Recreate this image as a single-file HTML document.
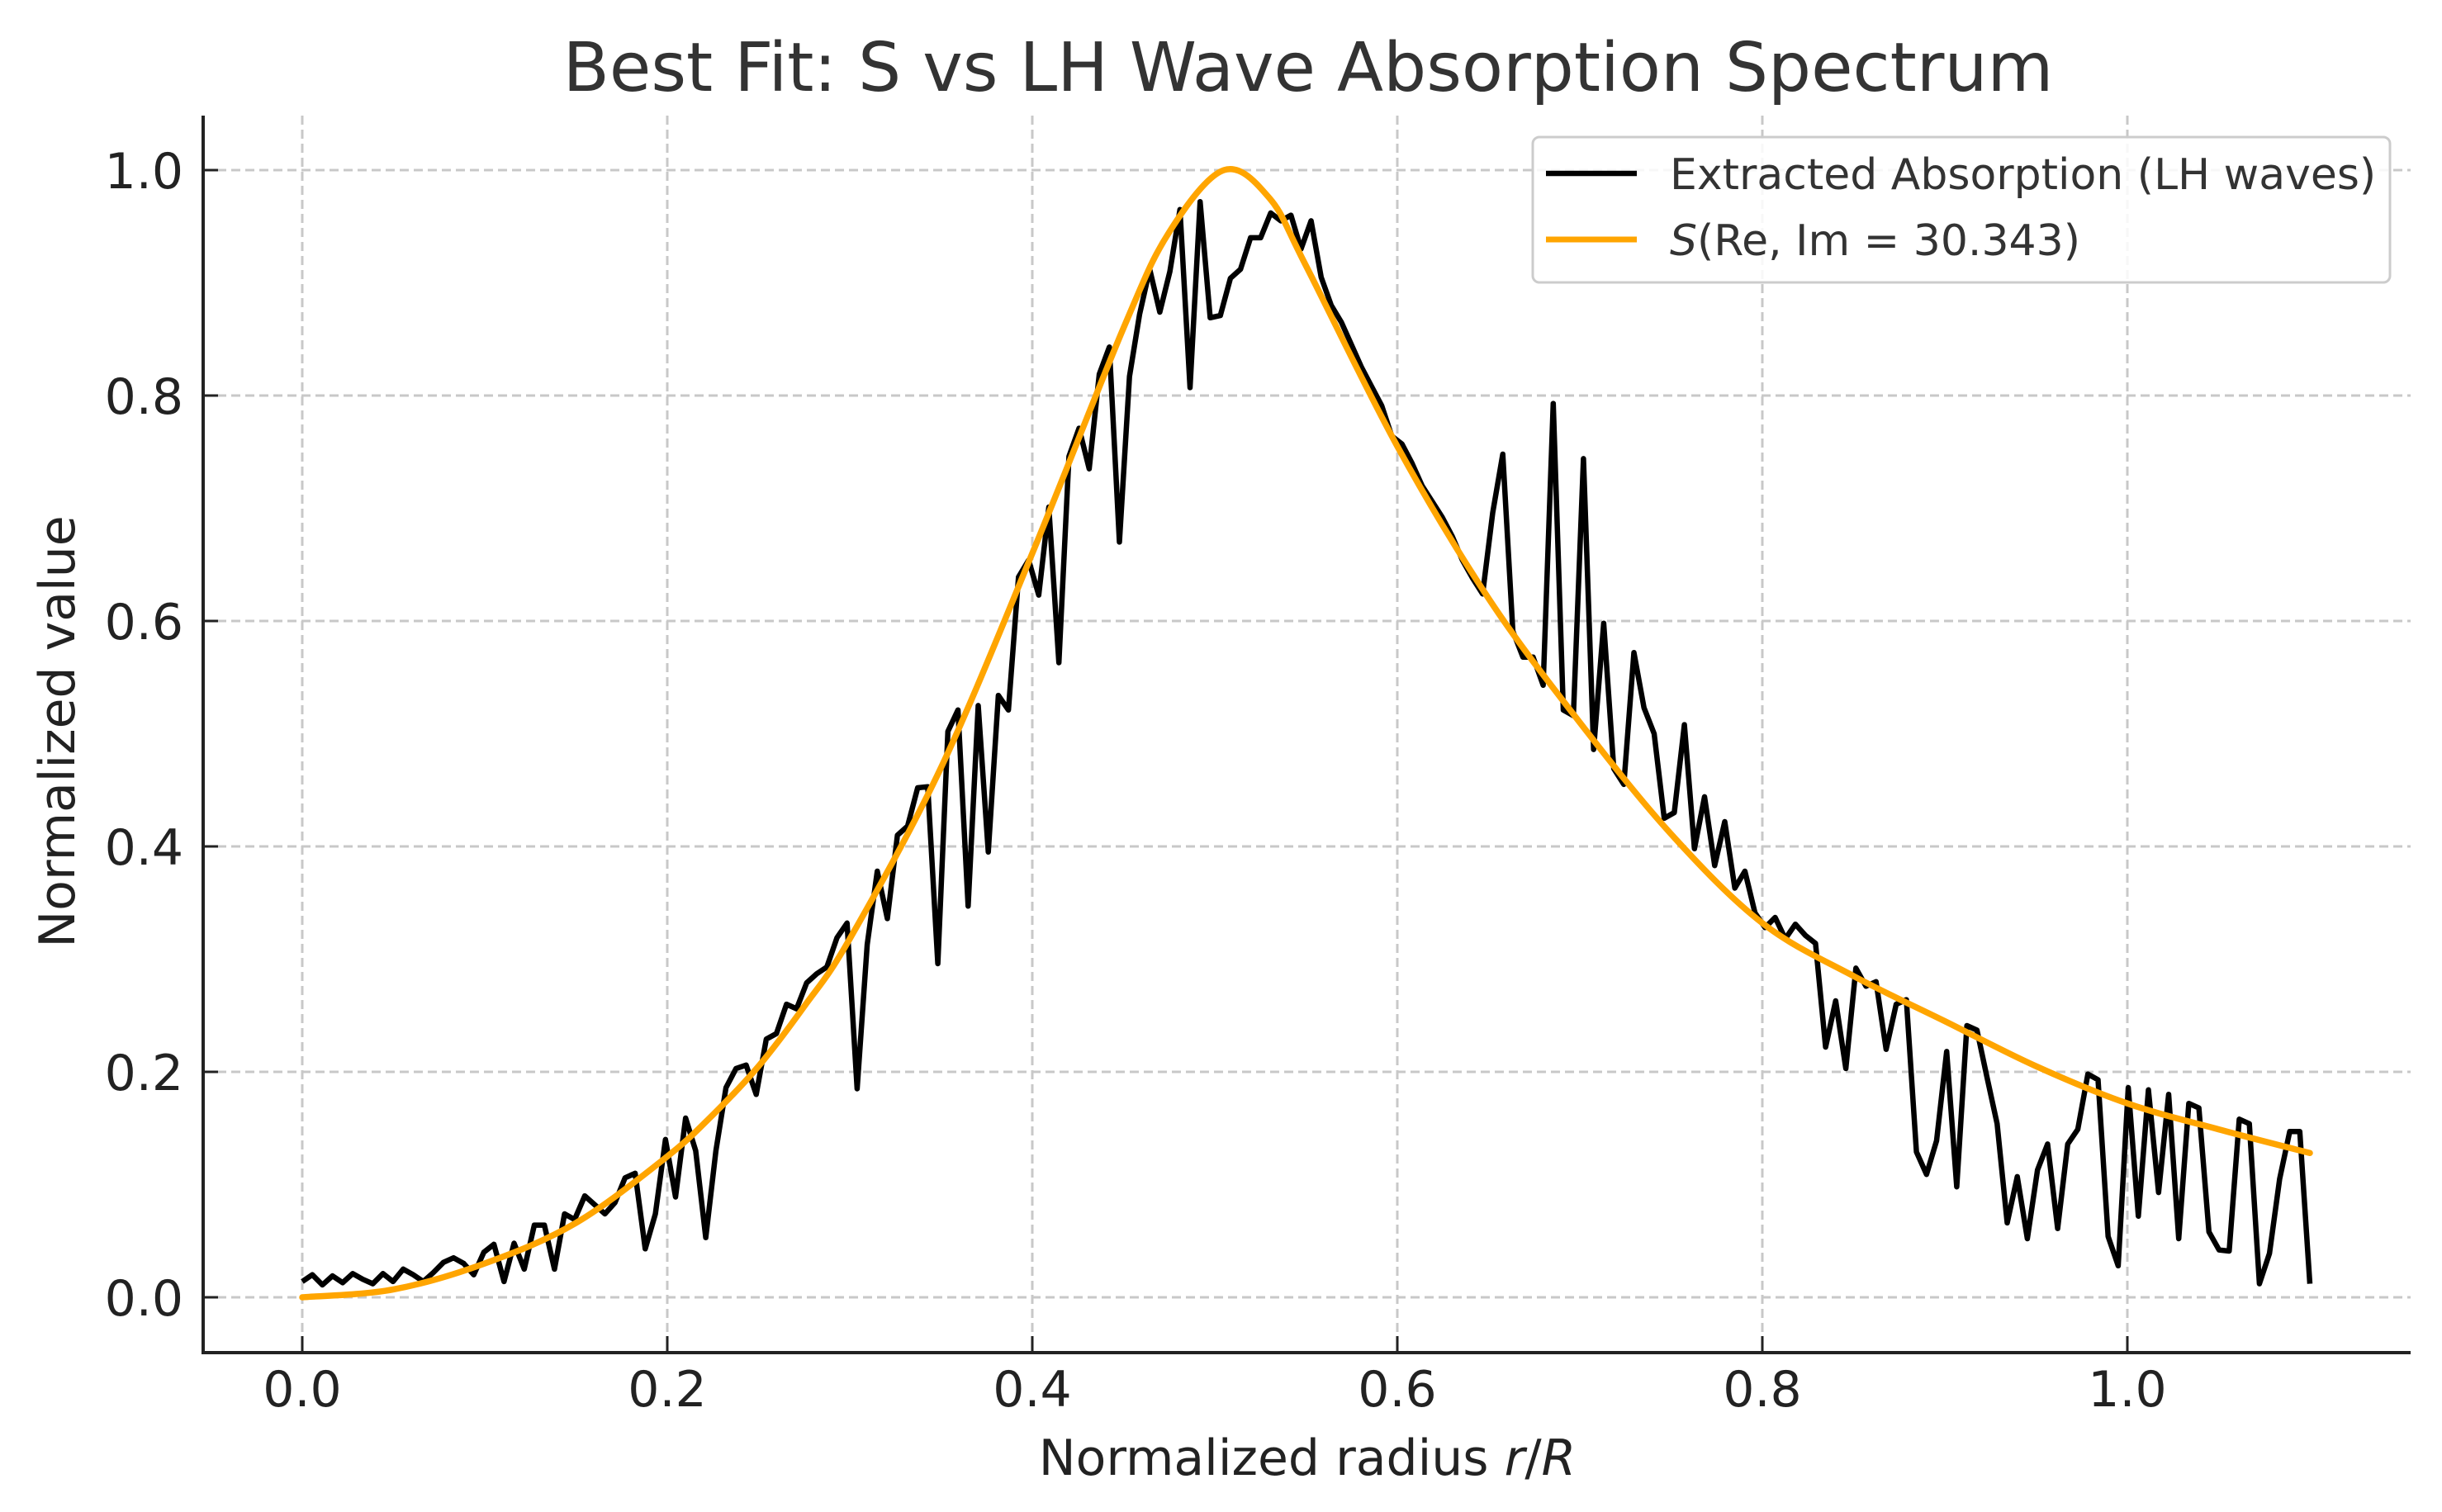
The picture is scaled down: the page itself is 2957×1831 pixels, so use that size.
<!DOCTYPE html>
<html><head><meta charset="utf-8"><style>
html,body{margin:0;padding:0;background:#fff;}
svg{display:block;font-family:"DejaVu Sans","Liberation Sans",sans-serif;}
</style></head><body>
<svg id="chart" width="2957" height="1831" viewBox="0 0 2957 1831">
<rect x="0" y="0" width="2957" height="1831" fill="#fff"/>
<g id="grid"></g>
<g id="series"></g>
<g id="axes"></g>
<text x="1584" y="110" font-size="82" fill="#333" text-anchor="middle">Best Fit: S vs LH Wave Absorption Spectrum</text>
<text x="1583" y="1786" font-size="60" fill="#222" text-anchor="middle">Normalized radius <tspan font-style="italic">r</tspan>/<tspan font-style="italic">R</tspan></text>
<text transform="translate(90,886) rotate(-90)" font-size="60" fill="#222" text-anchor="middle">Normalized value</text>
<g>
<rect x="1856" y="166" width="1038" height="176" rx="8" fill="rgba(255,255,255,0.85)" stroke="#ccc" stroke-width="3"/>
<line x1="1872" y1="210" x2="1982" y2="210" stroke="#000" stroke-width="6.5"/>
<text x="2022" y="229" font-size="52" fill="#333">Extracted Absorption (LH waves)</text>
<line x1="1872" y1="290" x2="1982" y2="290" stroke="#FFA500" stroke-width="7"/>
<text x="2022" y="309" font-size="52" fill="#333"><tspan font-style="italic">S</tspan>(Re, Im = 30.343)</text>
</g>
</svg>
<script>
const xTicks = [0, 0.2, 0.4, 0.6, 0.8, 1.0];
const xTickLabels = ["0.0","0.2","0.4","0.6","0.8","1.0"];
const yTicks = [0, 0.2, 0.4, 0.6, 0.8, 1.0];
const yTickLabels = ["0.0","0.2","0.4","0.6","0.8","1.0"];
const xMax = 1.1;
const extracted = [0.014,0.02,0.011,0.019,0.013,0.021,0.016,0.012,0.021,0.014,0.025,0.02,0.014,0.022,
0.031,0.035,0.03,0.02,0.04,0.047,0.014,0.048,0.025,0.064,0.064,0.025,0.074,0.069,0.09,0.082,0.074,0.084,0.106,0.11,0.043,0.074,0.14,0.089,0.159,0.13,0.053,0.13,0.186,0.203,0.206,0.18,0.229,0.234,0.26,0.256,0.279,0.287,0.293,0.319,0.332,0.185,
0.313,0.378,0.336,0.41,0.418,0.452,0.453,0.296,0.502,0.521,0.347,0.525,0.395,0.534,0.521,0.639,0.654,0.623,0.701,0.563,0.746,0.771,0.735,0.819,0.843,0.67,0.817,0.872,0.912,0.874,0.91,0.965,0.807,0.972,0.869,0.871,0.904,0.912,0.94,0.94,0.962,0.955,0.96,0.93,0.955,0.905,0.88,0.865,0.845,
0.825,0.808,0.791,0.764,0.757,0.74,0.72,0.706,0.692,0.675,0.654,0.638,0.624,0.696,0.748,0.591,0.568,0.568,0.543,0.793,0.521,0.516,0.744,0.486,0.598,0.469,0.455,0.572,0.523,0.5,0.425,0.43,0.508,0.398,0.444,0.383,0.422,0.363,0.378,0.341,0.328,0.337,0.318,0.331,0.321,0.314,
0.222,0.263,0.203,0.292,0.276,0.28,0.22,0.26,0.264,0.129,0.109,0.139,0.218,0.098,0.241,0.237,0.195,0.154,0.066,0.107,0.052,0.113,0.136,0.061,0.136,0.149,0.198,0.193,0.054,0.028,0.186,0.072,0.184,0.093,0.18,0.052,0.172,0.168,0.058,0.042,0.041,0.158,0.154,0.012,0.039,0.105,0.147,0.147,0.012];
const fitX = [0,0.05,0.1,0.15,0.2,0.225,0.25,0.275,0.3,0.35,0.4,0.45,0.475,0.505,0.53,0.55,0.6,0.65,0.7,0.75,0.8,0.85,0.9,0.95,1.0,1.05,1.1];
const fitY = [0,0.007,0.03,0.066,0.125,0.162,0.205,0.258,0.318,0.47,0.66,0.86,0.945,1.0,0.975,0.915,0.755,0.62,0.51,0.411,0.332,0.285,0.245,0.205,0.172,0.149,0.128];

const NS = "http://www.w3.org/2000/svg";
const L = 246, R = 2919, T = 140, B = 1638;
function sx(v){ return 366 + 2210 * v; }
function sy(v){ return 1571 - 1365 * v; }
function mk(tag, attrs, parent){ const e = document.createElementNS(NS, tag); for (const k in attrs) e.setAttribute(k, attrs[k]); parent.appendChild(e); return e; }

const grid = document.getElementById('grid');
const axes = document.getElementById('axes');
const series = document.getElementById('series');

xTicks.forEach((t, i) => {
  const g = mk('line', {x1: sx(t), x2: sx(t), y1: T, y2: B, stroke: '#c8c8c8', 'stroke-width': 3, 'stroke-dasharray': '11 6'}, grid);
  
  
  const tk = mk('line', {x1: sx(t), x2: sx(t), y1: B, y2: B - 20, stroke: '#222', 'stroke-width': 3}, axes);
  
  
  const lb = mk('text', {x: sx(t), y: 1703, 'font-size': 60, fill: '#222', 'text-anchor': 'middle'}, axes);
  lb.textContent = xTickLabels[i];
  
  
});
yTicks.forEach((t, i) => {
  const g = mk('line', {x1: L, x2: R, y1: sy(t), y2: sy(t), stroke: '#c8c8c8', 'stroke-width': 3, 'stroke-dasharray': '11 6'}, grid);
  
  
  const tk = mk('line', {x1: L, x2: L + 18, y1: sy(t), y2: sy(t), stroke: '#222', 'stroke-width': 3}, axes);
  
  
  const lb = mk('text', {x: 222, y: sy(t) + 22, 'font-size': 60, fill: '#222', 'text-anchor': 'end'}, axes);
  lb.textContent = yTickLabels[i];
  
  
});
const ya = mk('line', {x1: L, x2: L, y1: T, y2: B + 2, stroke: '#222', 'stroke-width': 4}, axes);


const xa = mk('line', {x1: L - 2, x2: R, y1: B, y2: B, stroke: '#222', 'stroke-width': 4}, axes);



const n = extracted.length;
let d = '';
extracted.forEach((v, i) => { const x = i * xMax / (n - 1); d += (i ? 'L' : 'M') + sx(x).toFixed(1) + ',' + sy(v).toFixed(1); });
const p1 = mk('path', {d: d, fill: 'none', stroke: '#000', 'stroke-width': 6.5, 'stroke-linejoin': 'round'}, series);



const pts = fitX.map((x, i) => [sx(x), sy(fitY[i])]);
let d2 = 'M' + pts[0][0] + ',' + pts[0][1];
for (let i = 0; i < pts.length - 1; i++) {
  const p0 = pts[Math.max(0, i - 1)], pa = pts[i], pb = pts[i + 1], p3 = pts[Math.min(pts.length - 1, i + 2)];
  const c1 = [pa[0] + (pb[0] - p0[0]) / 6, pa[1] + (pb[1] - p0[1]) / 6];
  const c2 = [pb[0] - (p3[0] - pa[0]) / 6, pb[1] - (p3[1] - pa[1]) / 6];
  d2 += 'C' + c1[0].toFixed(1) + ',' + c1[1].toFixed(1) + ' ' + c2[0].toFixed(1) + ',' + c2[1].toFixed(1) + ' ' + pb[0].toFixed(1) + ',' + pb[1].toFixed(1);
}
const p2 = mk('path', {d: d2, fill: 'none', stroke: '#FFA500', 'stroke-width': 7.5, 'stroke-linecap': 'round'}, series);


</script>
</body></html>
